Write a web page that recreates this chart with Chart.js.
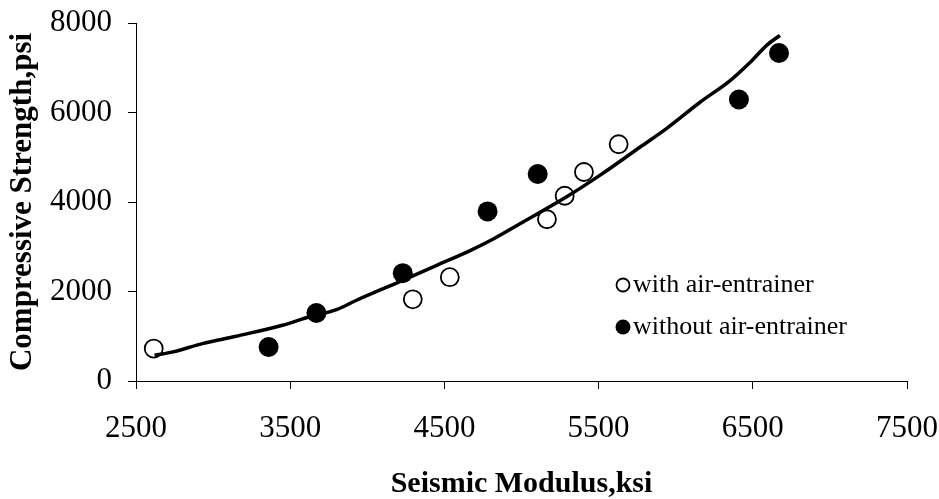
<!DOCTYPE html>
<html>
<head>
<meta charset="utf-8">
<title>Compressive Strength vs Seismic Modulus</title>
<script src="https://cdn.jsdelivr.net/npm/chart.js@4/dist/chart.umd.min.js"></script>
<style>
  html, body { margin: 0; padding: 0; background: #ffffff; }
  #chart { display: block; }
</style>
</head>
<body>
<canvas id="chart" width="939" height="499"></canvas>
<script>
// Specimens cast with an air-entraining admixture
const withAirModulus  = [2615, 4295, 4535, 5165, 5280, 5405, 5630];   // ksi
const withAirStrength = [725, 1825, 2320, 3615, 4140, 4670, 5290];    // psi

// Specimens cast without an air-entraining admixture
const withoutAirModulus  = [3360, 3670, 4230, 4780, 5105, 6410, 6670];
const withoutAirStrength = [760, 1520, 2410, 3790, 4625, 6290, 7330];

// Best-fit trend through both groups
const trendModulus  = [2620, 2740, 2930, 3150, 3450, 3620, 3800, 3930, 4230, 4450, 4670,
                       4820, 4990, 5290, 5510, 5770, 5940, 6160, 6355, 6485, 6590, 6676];
const trendStrength = [575, 650, 835, 1000, 1245, 1430, 1595, 1805, 2250, 2585, 2920,
                       3180, 3515, 4110, 4600, 5230, 5640, 6235, 6720, 7130, 7500, 7725];

// Axis ticks
const xTicks = [2500, 3500, 4500, 5500, 6500, 7500];
const yTicks = [0, 2000, 4000, 6000, 8000];

const seriesNames = ['with air-entrainer', 'without air-entrainer'];

const toPoints = (xs, ys) => xs.map((x, i) => ({ x: x, y: ys[i] }));

const SERIF = '"Liberation Serif", "Times New Roman", Times, serif';

// Legend drawn inside the plot area, one row per marker series
const insetLegend = {
  id: 'insetLegend',
  afterDraw(chart, args, opts) {
    const ctx = chart.ctx;
    ctx.save();
    ctx.font = opts.fontSize + 'px ' + SERIF;
    ctx.textBaseline = 'middle';
    ctx.textAlign = 'left';
    let row = 0;
    chart.data.datasets.forEach(ds => {
      if (!ds.inLegend) return;
      const cy = opts.y + row * opts.rowGap;
      const cx = opts.x;
      ctx.beginPath();
      ctx.arc(cx, cy, ds.legendRadius, 0, Math.PI * 2);
      ctx.fillStyle = ds.backgroundColor;
      ctx.fill();
      if (ds.borderWidth > 0) {
        ctx.lineWidth = ds.borderWidth;
        ctx.strokeStyle = ds.borderColor;
        ctx.stroke();
      }
      ctx.fillStyle = '#000';
      ctx.fillText(ds.label, cx + opts.textGap, cy + opts.textShift);
      row++;
    });
    ctx.restore();
  }
};

// Keep the plot frame fixed: label overhang is absorbed by the layout padding
const noOverhangX = s => { s.height = 118; s.paddingLeft = 0; s.paddingRight = 0; };
const noOverhangY = s => { s.width = 136; s.paddingTop = 0; s.paddingBottom = 0; };

new Chart(document.getElementById('chart'), {
  type: 'scatter',
  data: {
    datasets: [
      {
        label: 'trend',
        data: toPoints(trendModulus, trendStrength),
        showLine: true,
        borderColor: '#000',
        borderWidth: 3.5,
        pointRadius: 0,
        tension: 0.4,
        cubicInterpolationMode: 'monotone',
        fill: false,
        order: 0
      },
      {
        label: seriesNames[0],
        data: toPoints(withAirModulus, withAirStrength),
        pointRadius: 9,
        pointBorderWidth: 1.8,
        backgroundColor: '#ffffff',
        borderColor: '#000',
        borderWidth: 1.8,
        legendRadius: 6.5,
        inLegend: true,
        order: 1
      },
      {
        label: seriesNames[1],
        data: toPoints(withoutAirModulus, withoutAirStrength),
        pointRadius: 10,
        pointBorderWidth: 0,
        backgroundColor: '#000',
        borderColor: '#000',
        borderWidth: 0,
        legendRadius: 7.5,
        inLegend: true,
        order: 2
      }
    ]
  },
  options: {
    responsive: false,
    animation: false,
    devicePixelRatio: 1,
    layout: { padding: { top: 23, right: 32, left: 0, bottom: 0 } },
    plugins: {
      legend: { display: false },
      tooltip: { enabled: false },
      insetLegend: { x: 623, y: 285, rowGap: 42, textGap: 10, textShift: 0, fontSize: 26 }
    },
    scales: {
      x: {
        type: 'linear',
        position: 'bottom',
        min: xTicks[0],
        max: xTicks[xTicks.length - 1],
        afterBuildTicks: s => { s.ticks = xTicks.map(v => ({ value: v })); },
        afterFit: noOverhangX,
        ticks: {
          color: '#000',
          padding: 21,
          font: { family: SERIF, size: 31 },
          callback: v => String(v)
        },
        grid: { drawOnChartArea: false, drawTicks: true, tickLength: 8, tickColor: '#000', tickWidth: 1 },
        border: { display: true, color: '#000', width: 1 },
        title: {
          display: true,
          text: 'Seismic Modulus,ksi',
          color: '#000',
          font: { family: SERIF, size: 30, weight: 'bold', lineHeight: 1 },
          padding: { top: 0, bottom: 0 }
        }
      },
      y: {
        type: 'linear',
        position: 'left',
        min: yTicks[0],
        max: yTicks[yTicks.length - 1],
        afterBuildTicks: s => { s.ticks = yTicks.map(v => ({ value: v })); },
        afterFit: noOverhangY,
        ticks: {
          color: '#000',
          padding: 16,
          font: { family: SERIF, size: 31 },
          callback: v => String(v)
        },
        grid: { drawOnChartArea: false, drawTicks: true, tickLength: 8, tickColor: '#000', tickWidth: 1 },
        border: { display: true, color: '#000', width: 1 },
        title: {
          display: true,
          text: 'Compressive Strength,psi',
          color: '#000',
          font: { family: SERIF, size: 31, weight: 'bold', lineHeight: 1 },
          padding: { top: 7, bottom: 0 }
        }
      }
    }
  },
  plugins: [insetLegend]
});
</script>
</body>
</html>
